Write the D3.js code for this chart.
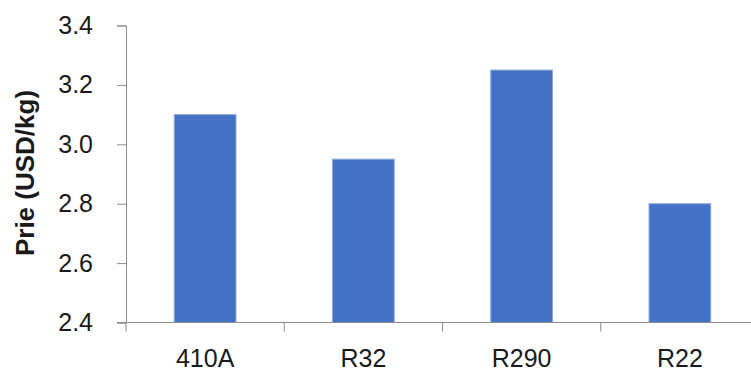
<!DOCTYPE html>
<html>
<head>
<meta charset="utf-8">
<script src="https://cdn.jsdelivr.net/npm/d3@7"></script>
<style>
  html, body { margin: 0; padding: 0; background: #fff; }
  svg { display: block; }
  text { font-family: "Liberation Sans", Arial, sans-serif; fill: #1a1a1a; }
</style>
</head>
<body>
<svg id="chart" width="751" height="371"></svg>
<script>
// Refrigerant prices
const categories = ["410A", "R32", "R290", "R22"];
const prices = [3.10, 2.95, 3.25, 2.80];
const yTicks = [2.4, 2.6, 2.8, 3.0, 3.2, 3.4];
const yTitle = "Prie (USD/kg)";

const svg = d3.select("#chart");
const plotLeft = 126, plotRight = 759, plotTop = 25.5, plotBottom = 322.5;

const x = d3.scaleBand().domain(categories).range([plotLeft, plotRight]).paddingInner(0.61).paddingOuter(0.305);
const y = d3.scaleLinear().domain([2.4, 3.4]).range([plotBottom, plotTop]);

const axisColor = "#8c8c8c";

// bars
svg.append("g").selectAll("rect")
  .data(categories.map((c, i) => ({ c, v: prices[i] })))
  .join("rect")
  .attr("x", d => x(d.c))
  .attr("width", x.bandwidth())
  .attr("y", d => y(d.v))
  .attr("height", d => y(2.4) - y(d.v))
  .attr("fill", "#4472C4")
  .attr("stroke", "#8eaadb")
  .attr("stroke-width", 1);

// y axis
const yAxis = svg.append("g")
  .attr("transform", `translate(${plotLeft},0)`)
  .call(d3.axisLeft(y).tickValues(yTicks).tickFormat(d3.format(".1f")).tickSize(9).tickPadding(24));
yAxis.select(".domain").attr("stroke", axisColor);
yAxis.selectAll(".tick line").attr("stroke", axisColor);
yAxis.selectAll("text").attr("font-size", 25).attr("fill", "#1a1a1a");

// x axis with ticks at category boundaries
const xAxisG = svg.append("g").attr("transform", `translate(0,${plotBottom})`);
xAxisG.append("line")
  .attr("x1", plotLeft - 9).attr("x2", plotRight)
  .attr("stroke", axisColor);
xAxisG.selectAll(".bt")
  .data(d3.range(categories.length + 1))
  .join("line")
  .attr("class", "bt")
  .attr("x1", i => plotLeft + i * x.step())
  .attr("x2", i => plotLeft + i * x.step())
  .attr("y1", 0).attr("y2", 9)
  .attr("stroke", axisColor);
xAxisG.selectAll("text")
  .data(categories)
  .join("text")
  .attr("x", d => x(d) + x.bandwidth() / 2)
  .attr("y", 44)
  .attr("text-anchor", "middle")
  .attr("font-size", 25)
  .text(d => d);

// y title
svg.append("text")
  .attr("transform", `translate(25,173) rotate(-90)`)
  .attr("text-anchor", "middle")
  .attr("dominant-baseline", "central")
  .attr("font-size", 26)
  .attr("font-weight", "bold")
  .text(yTitle);
</script>
</body>
</html>
